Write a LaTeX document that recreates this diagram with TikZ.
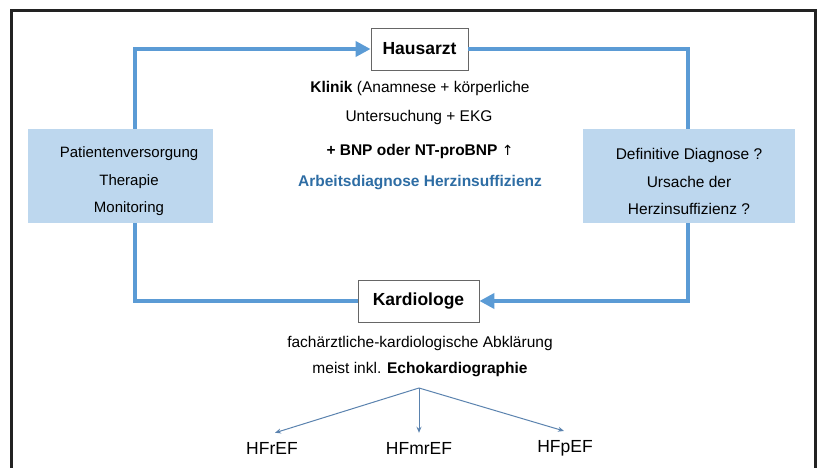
\documentclass[tikz,border=0pt]{standalone}
\usepackage{fontspec}
\setmainfont{Liberation Sans}
\usetikzlibrary{arrows.meta,calc}
\definecolor{flowblue}{HTML}{5B9BD5}
\definecolor{boxblue}{HTML}{BDD7EE}
\definecolor{textblue}{HTML}{2E6DA4}
\definecolor{framegray}{HTML}{222222}
\definecolor{thinblue}{HTML}{5A82AE}
\begin{document}
\begin{tikzpicture}[x=1pt,y=-1pt,
  txt/.style={font=\fontsize{15.5}{17}\selectfont, inner sep=0pt, anchor=center},
  whitebox/.style={draw=gray!80!black, line width=0.8pt, fill=white, font=\fontsize{17.5}{19}\selectfont\bfseries, minimum height=42pt, inner xsep=8pt},
  bluebox/.style={fill=boxblue, draw=none, minimum height=94pt},
  boxtxt/.style={align=center, inner sep=0pt},
  flow/.style={draw=flowblue, line width=4.5pt},
  flowarrow/.style={flow, -{Triangle[length=15pt,width=15pt]}},
  thin/.style={draw=thinblue, line width=1pt, -{Stealth[length=6pt,width=5pt]}},
  hf/.style={txt, font=\fontsize{17.5}{19}\selectfont}
]
\useasboundingbox (0,0) rectangle (825,468);
% outer frame
\draw[framegray, line width=3pt] (11,480) -- (11,11) -- (815,11) -- (815,480);
% nodes
\node[whitebox, minimum width=97pt] (haus) at (419.5,49) {Hausarzt};
\node[whitebox, minimum width=121pt] (kard) at (418.5,301) {Kardiologe};
\node[bluebox, minimum width=185pt] (left) at (120.5,176) {};
\node[boxtxt, font=\fontsize{15}{27.5}\selectfont] (lefttxt) at (129,181.5) {Patientenversorgung\\Therapie\\Monitoring};
\node[bluebox, minimum width=212pt] (right) at (689,176) {};
\node[boxtxt, font=\fontsize{15.5}{27.5}\selectfont] (righttxt) at (689,181.5) {Definitive Diagnose ?\\Ursache der\\Herzinsuffizienz ?};
\coordinate (lx) at (135,0);
\coordinate (rx) at (688,0);
% loop connectors
\draw[flowarrow] (left.north -| lx) |- (haus.west);
\draw[flow] (haus.east) -| (right.north -| rx);
\draw[flowarrow] (right.south -| rx) |- (kard.east);
\draw[flow] (kard.west) -| (left.south -| lx);
% middle text
\node[txt] (t1) at (420,88) {\textbf{Klinik} (Anamnese + körperliche};
\node[txt] (t2) at (419,117) {Untersuchung + EKG};
\node[txt] (t3) at (420,151) {\textbf{+ BNP oder NT-proBNP} {\fontspec{DejaVu Sans}\fontsize{14}{15}\selectfont ↑}};
\node[txt, text=textblue, font=\fontsize{15.5}{17}\selectfont\bfseries] (t4) at (420,183) {Arbeitsdiagnose Herzinsuffizienz};
% cardiology text
\node[txt] (k1) at (420,343) {fachärztliche-kardiologische Abklärung};
\node[txt] (k2) at (420,370) {meist inkl. \textbf{Echokardiographie}};
\coordinate (split) at (419,388);
\node[hf] (h1) at (272,448) {HFrEF};
\node[hf] (h2) at (419,448) {HFmrEF};
\node[hf] (h3) at (565,448) {HFpEF};
\draw[thin] (split) -- ($(h1.north)+(3,-9)$);
\draw[thin] (split) -- ($(h2.north)+(0,-9)$);
\draw[thin] (split) -- ($(h3.north)+(-1,-9)$);
\end{tikzpicture}
\end{document}
